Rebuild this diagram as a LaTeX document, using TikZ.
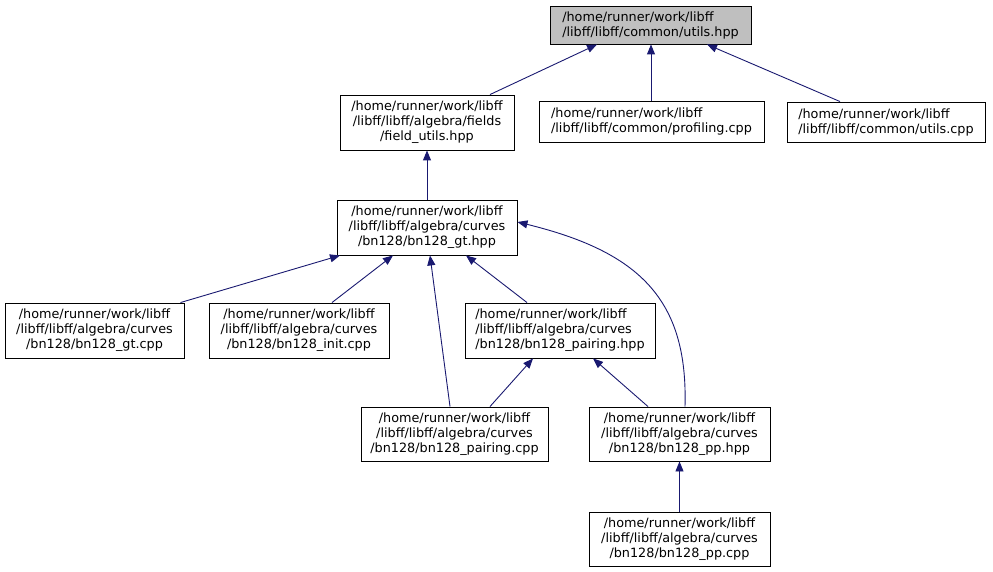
\documentclass[tikz,border=0pt]{standalone}
\usepackage{fontspec}
\setmainfont{DejaVu Sans}
\usetikzlibrary{arrows.meta}
\definecolor{edgeblue}{HTML}{191970}
\definecolor{boxgray}{HTML}{BFBFBF}
\begin{document}
\begin{tikzpicture}[x=1pt,y=-1pt,
  box/.style={draw=black, line width=0.9pt, inner sep=0pt, fill=white,
    font=\fontsize{12.8}{15}\selectfont, minimum height=55pt},
  lbox/.style={box, align=left},
  cbox/.style={box, align=center},
  edge/.style={draw=edgeblue, line width=0.9pt, {Triangle[length=10pt,width=8pt]}-}]
\useasboundingbox (0,0) rectangle (993,572);

\node[lbox, fill=boxgray, minimum width=201pt, minimum height=38pt] (utilshpp) at (650.5,25)
  {/home/runner/work/libff\\/libff/libff/common/utils.hpp};
\node[cbox, minimum width=174pt] (field) at (427,122.5)
  {/home/runner/work/libff\\/libff/libff/algebra/fields\\/field\_utils.hpp};
\node[lbox, minimum width=225pt, minimum height=41pt] (prof) at (651.5,121.5)
  {/home/runner/work/libff\\/libff/libff/common/profiling.cpp};
\node[lbox, minimum width=198pt, minimum height=40pt] (utilscpp) at (886,122)
  {/home/runner/work/libff\\/libff/libff/common/utils.cpp};
\node[cbox, minimum width=180pt] (gthpp) at (427,227.5)
  {/home/runner/work/libff\\/libff/libff/algebra/curves\\/bn128/bn128\_gt.hpp};
\node[cbox, minimum width=179pt] (gtcpp) at (94.5,330.5)
  {/home/runner/work/libff\\/libff/libff/algebra/curves\\/bn128/bn128\_gt.cpp};
\node[cbox, minimum width=180pt] (init) at (299,330.5)
  {/home/runner/work/libff\\/libff/libff/algebra/curves\\/bn128/bn128\_init.cpp};
\node[lbox, minimum width=190pt] (pairhpp) at (560,330.5)
  {/home/runner/work/libff\\/libff/libff/algebra/curves\\/bn128/bn128\_pairing.hpp};
\node[cbox, minimum width=187pt, minimum height=54pt] (paircpp) at (454.5,434)
  {/home/runner/work/libff\\/libff/libff/algebra/curves\\/bn128/bn128\_pairing.cpp};
\node[cbox, minimum width=181pt, minimum height=54pt] (pphpp) at (679.5,434)
  {/home/runner/work/libff\\/libff/libff/algebra/curves\\/bn128/bn128\_pp.hpp};
\node[cbox, minimum width=181pt, minimum height=54pt] (ppcpp) at (679.5,539)
  {/home/runner/work/libff\\/libff/libff/algebra/curves\\/bn128/bn128\_pp.cpp};

\draw[edge] ([xshift=-53.5pt]utilshpp.south) -- ([xshift=63pt]field.north);
\draw[edge] ([xshift=0.5pt]utilshpp.south) -- ([xshift=-0.5pt]prof.north);
\draw[edge] ([xshift=56.5pt]utilshpp.south) -- ([xshift=-46pt]utilscpp.north);
\draw[edge] (field.south) -- (gthpp.north);
\draw[edge] ([xshift=-87pt]gthpp.south) -- ([xshift=86pt]gtcpp.north);
\draw[edge] ([xshift=-34pt]gthpp.south) -- ([xshift=33pt]init.north);
\draw[edge] ([xshift=3pt]gthpp.south) -- ([xshift=-4.5pt]paircpp.north);
\draw[edge] ([xshift=39pt]gthpp.south) -- ([xshift=-33pt]pairhpp.north);
\draw[edge] ([yshift=5.5pt]gthpp.east) .. controls (640,252) and (688,300) .. ([xshift=5.5pt]pphpp.north);
\draw[edge] ([xshift=-27pt]pairhpp.south) -- ([xshift=35.5pt]paircpp.north);
\draw[edge] ([xshift=33pt]pairhpp.south) -- ([xshift=-31.5pt]pphpp.north);
\draw[edge] (pphpp.south) -- (ppcpp.north);
\end{tikzpicture}
\end{document}
